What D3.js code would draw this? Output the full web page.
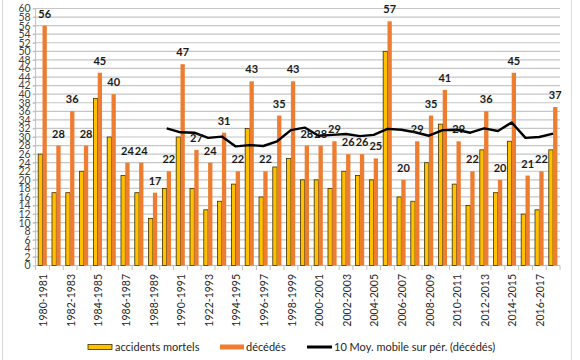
<!DOCTYPE html>
<html><head><meta charset="utf-8">
<script src="https://cdn.jsdelivr.net/npm/d3@7"></script>
<style>
html,body{margin:0;padding:0;background:#fff;}
svg{display:block;font-family:Lato,"Open Sans",sans-serif;}
</style></head>
<body><svg id="c" width="580" height="360"></svg>
<script>
const categories = ["1980-1981","1981-1982","1982-1983","1983-1984","1984-1985","1985-1986","1986-1987","1987-1988","1988-1989","1989-1990","1990-1991","1991-1992","1922-1993","1993-1994","1994-1995","1995-1996","1996-1997","1997-1998","1998-1999","1999-2000","2000-2001","2001-2002","2002-2003","2003-2004","2004-2005","2005-2006","2006-2007","2007-2008","2008-2009","2009-2010","2010-2011","2011-2012","2012-2013","2013-2014","2014-2015","2015-2016","2016-2017","2017-2018"];
const accidents = [26,17,17,22,39,30,21,17,11,18,30,18,13,15,19,32,16,23,25,20,20,18,22,21,20,50,16,15,24,33,19,14,27,17,29,12,13,27];
const deces = [56,28,36,28,45,40,24,24,17,22,47,27,24,31,22,43,22,35,43,28,28,29,26,26,25,57,20,29,35,41,29,22,36,20,45,21,22,37];
const moyMobile = [null,null,null,null,null,null,null,null,null,32,31.1,31,29.8,30.1,27.8,28.1,27.9,29,31.6,32.2,30.3,30.5,30.7,30.2,30.5,31.9,31.7,31.1,30.3,31.6,31.7,31,32,31.4,33.4,29.8,30,30.8];
const yTicks = d3.range(0, 62, 2);
const seriesNames = ["accidents mortels","décédés","10 Moy. mobile sur pér. (décédés)"];
const colors = {acc:"#FFC000", dec:"#ED7D31", line:"#000000"};

const svg = d3.select("#c");
// outer border
svg.append("rect").attr("x",2.5).attr("y",-5).attr("width",569).attr("height",372)
  .attr("fill","none").attr("stroke","#d9d9d9").attr("stroke-width",1);

const x = d3.scaleBand().domain(categories).range([35.6,560]).padding(0);
const x1 = d3.scaleBand().domain(["acc","dec"]).range([0,x.bandwidth()]).paddingInner(0).paddingOuter(0.6);
const y = d3.scaleLinear().domain([0,60]).range([265.5,8.5]);

// gridlines
svg.append("g").selectAll("line").data(yTicks.filter(d=>d>0)).join("line")
  .attr("x1",33).attr("x2",560).attr("y1",d=>y(d)).attr("y2",d=>y(d))
  .attr("stroke","#c6c6c6").attr("stroke-width",1.2);

// y axis
const ya = svg.append("g").attr("transform","translate(35.6,0)")
  .call(d3.axisLeft(y).tickValues(yTicks).tickSize(3).tickPadding(2));
ya.select(".domain").attr("stroke","#bfbfbf").attr("d","M0,8.5V265.5");
ya.selectAll(".tick line").attr("stroke","#bfbfbf");
ya.selectAll("text").attr("fill","#404040").style("font-size","10.5px").style("font-family","Lato,sans-serif");

// x axis
svg.append("line").attr("x1",35.6).attr("x2",560).attr("y1",265.5).attr("y2",265.5).attr("stroke","#bfbfbf");
const bounds = categories.map((c)=>x(c)).concat([560]);
svg.append("g").selectAll("line").data(bounds).join("line")
  .attr("x1",d=>d).attr("x2",d=>d).attr("y1",265.5).attr("y2",270).attr("stroke","#bfbfbf");
svg.append("g").selectAll("text").data(categories.filter((c,i)=>i%2===0)).join("text")
  .attr("transform",d=>`translate(${x(d)+x.bandwidth()/2+1},274) rotate(-90)`)
  .attr("text-anchor","end").attr("dy","0.35em")
  .attr("fill","#262626").style("font-size","10.5px").text(d=>d);

// bars
const g = svg.append("g");
g.selectAll("rect.acc").data(accidents).join("rect").attr("class","acc")
  .attr("x",(d,i)=>x(categories[i])+x1("acc")).attr("width",x1.bandwidth())
  .attr("y",d=>y(d)).attr("height",d=>y(0)-y(d))
  .attr("fill",colors.acc).attr("stroke","#3b3000").attr("stroke-width",0.8);
g.selectAll("rect.dec").data(deces).join("rect").attr("class","dec")
  .attr("x",(d,i)=>x(categories[i])+x1("dec")).attr("width",x1.bandwidth())
  .attr("y",d=>y(d)).attr("height",d=>y(0)-y(d))
  .attr("fill",colors.dec);

// moving average line
const pts = moyMobile.map((v,i)=>({v,i})).filter(d=>d.v!==null);
svg.append("path").datum(pts)
  .attr("d",d3.line().x(d=>x(categories[d.i])+x.bandwidth()/2).y(d=>y(d.v)))
  .attr("fill","none").attr("stroke",colors.line).attr("stroke-width",2.4).attr("stroke-linejoin","round");

// labels
svg.append("g").selectAll("text").data(deces).join("text")
  .attr("x",(d,i)=>x(categories[i])+x1("dec")+x1.bandwidth()/2)
  .attr("y",d=>y(d)-8)
  .attr("text-anchor","middle").attr("fill","#1a1a1a")
  .style("font-size","11px").style("font-weight","bold").text(d=>d);

// legend
const lg = svg.append("g").style("font-size","11px").attr("fill","#262626");
lg.append("rect").attr("x",88).attr("y",344.5).attr("width",24).attr("height",5)
  .attr("fill",colors.acc).attr("stroke","#3b3000").attr("stroke-width",0.8);
lg.append("text").attr("x",115).attr("y",347).attr("dy","0.35em").text(seriesNames[0]);
lg.append("rect").attr("x",220).attr("y",344.5).attr("width",24).attr("height",5).attr("fill",colors.dec);
lg.append("text").attr("x",246).attr("y",347).attr("dy","0.35em").text(seriesNames[1]);
lg.append("line").attr("x1",307).attr("x2",332).attr("y1",347).attr("y2",347).attr("stroke","#000").attr("stroke-width",3);
lg.append("text").attr("x",334).attr("y",347).attr("dy","0.35em").text(seriesNames[2]);
</script></body></html>
